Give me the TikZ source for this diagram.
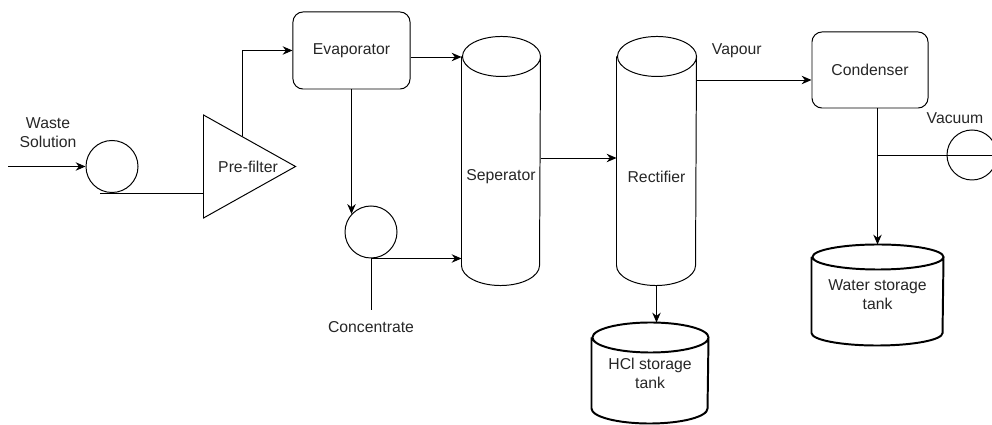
\documentclass[tikz,border=0pt]{standalone}
\usepackage{fontspec}
\setmainfont{Liberation Sans}
\usetikzlibrary{shapes.geometric,arrows.meta,calc}

% outline of an upright drum round node #2, end radii #3 and #4
\newcommand{\drumoutline}[4][]{%
  \draw[#1] ([yshift=-#4]#2.north west) -- ([yshift=#4]#2.south west)
    arc[start angle=180, end angle=360, x radius=#3, y radius=#4]
    -- ([yshift=-#4]#2.north east)
    arc[start angle=0, end angle=180, x radius=#3, y radius=#4]
    arc[start angle=180, end angle=360, x radius=#3, y radius=#4];
}

\begin{document}
\begin{tikzpicture}[x=0.025cm,y=-0.025cm,line width=0.7pt,
  every node/.style={font=\fontsize{11.2}{13.5}\selectfont, text=black!85}]
  % Styles
  \tikzset{
    unit/.style={draw, rounded corners=0.25cm, minimum width=2.925cm, minimum height=1.925cm},
    pump/.style={draw, circle, minimum size=1.3cm, inner sep=0pt},
    filter/.style={draw, isosceles triangle, isosceles triangle stretches,
      minimum width=2.575cm, minimum height=2.3cm, inner sep=0pt},
    drum/.style={inner sep=0pt, align=center},
    flow/.style={-{Stealth[length=7pt,width=6pt]}},
    thickwall/.style={line width=1.4pt}
  }

  \useasboundingbox (0,0) rectangle (992,425);

  % Equipment
  \node[pump] (feedpump) at (112,166.5) {};
  \node[filter, anchor=west] (prefilter) at (203,166.5) {};
  \node (pflbl) at ($(prefilter.west)+(45,0)$) {Pre-filter};
  \node[unit] (evap) at (351.5,50.5) {Evaporator};
  \node[pump] (concpump) at (371,232) {};
  \node[drum, minimum width=1.95cm, minimum height=6.2cm] (sep) at (501,161) {};
  \node (seplbl) at ($(sep.center)+(0,16)$) {Seperator};
  \node[drum, minimum width=1.975cm, minimum height=6.2cm] (rect) at (656.5,161) {};
  \node (rectlbl) at ($(rect.center)+(0,16)$) {Rectifier};
  \node[drum, minimum width=2.9cm, minimum height=2.5cm] (hcl) at (650,373) {HCl storage\\tank};
  \node[unit, minimum width=2.9cm, minimum height=1.9cm] (cond) at (870,70) {Condenser};
  \node[drum, minimum width=3.275cm, minimum height=2.5cm] (water) at (877.5,295) {Water storage\\tank};
  \node[pump, minimum size=1.25cm] (vac) at (972,155) {};

  \drumoutline{sep}{0.975cm}{0.5cm}
  \drumoutline{rect}{0.9875cm}{0.5cm}
  \drumoutline[thickwall]{hcl}{1.45cm}{0.375cm}
  \drumoutline[thickwall]{water}{1.6375cm}{0.3125cm}

  % Labels
  \node[align=center] (feedlbl) at (48,133) {Waste\\Solution};
  \node (vaclbl) at (955,118) {Vacuum};

  % Lines
  \coordinate (feed) at (8,166.5);
  \draw[flow] (feed) -- (feedpump.west);
  \draw ($(feedpump.south)+(-12,0)$) -- (feedpump.south -| prefilter.west);
  \draw[flow] ($(prefilter.left corner)!0.42!(prefilter.apex)$) |- (evap.west);
  \draw[flow] ($(evap.east)+(0,6.5)$) -- ($(evap.east -| sep.west)+(0,6.5)$);
  \draw[flow] (evap.south) -- (evap.south |- concpump.137);
  \draw[flow] (concpump.south) -- (concpump.south -| sep.west);
  \draw (concpump.south) -- ++(0,52) coordinate (concout);
  \node[below=4pt] (conclbl) at (concout) {Concentrate};
  \draw[flow] ($(sep.east)+(0,-3)$) -- ($(sep.east -| rect.west)+(0,-3)$);
  \draw[flow] (rect.south) -- (rect.south |- hcl.north);
  \coordinate (vapin) at ($(cond.west)+(0,10)$);
  \draw[flow] (rect.east |- vapin) -- (vapin)
    node[pos=0.35, above=12pt] {Vapour};
  \draw[flow] (water.north |- cond.south) -- (water.north);
  \draw (water.north |- vac.center) -- (vac.east);
\end{tikzpicture}
\end{document}
